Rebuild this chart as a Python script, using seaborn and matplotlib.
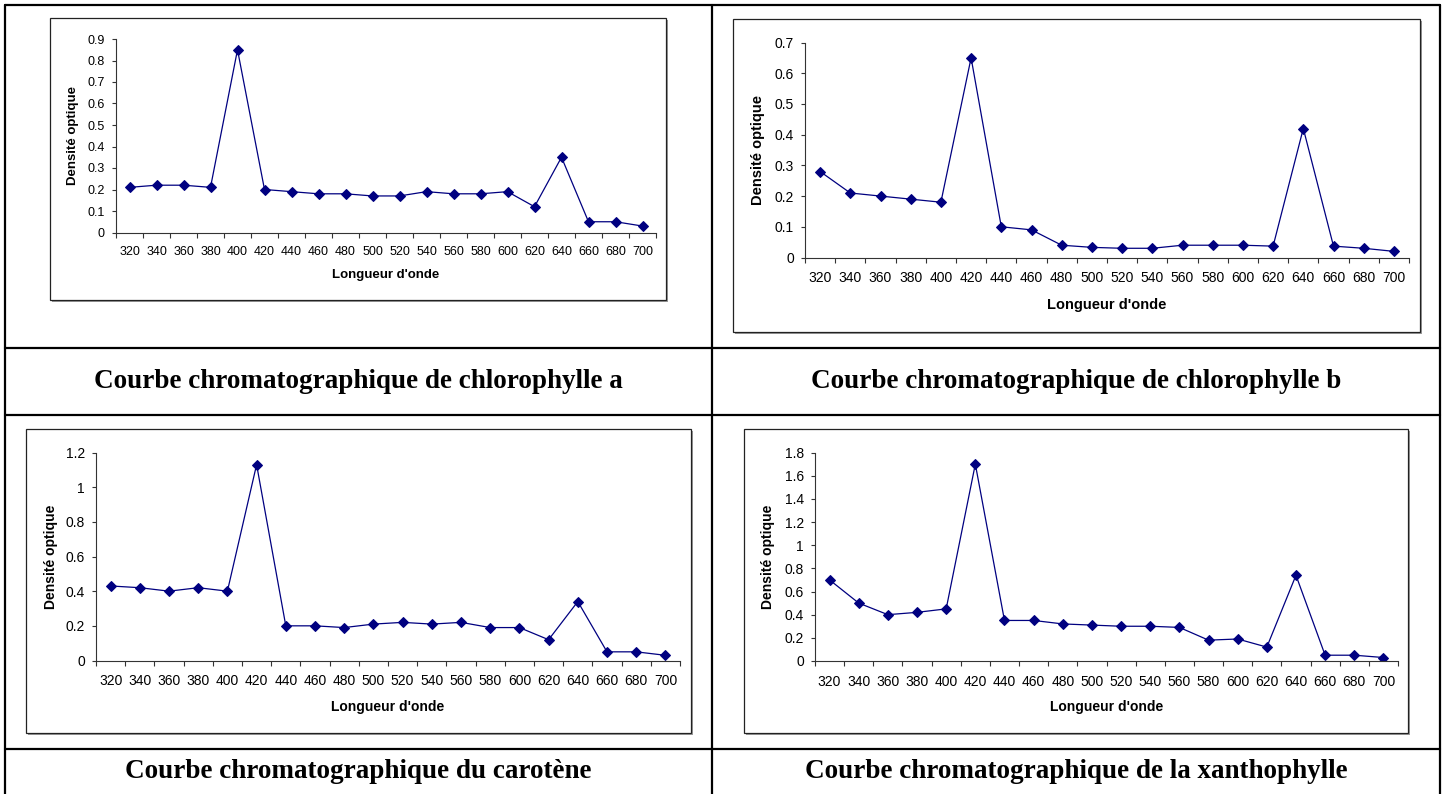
"""
Courbes d'absorption des pigments chlorophylliens (4 graphes style Excel dans un tableau)
"""

import matplotlib
matplotlib.use('Agg')
import matplotlib.pyplot as plt
import numpy as np
import seaborn as sns
from matplotlib.lines import Line2D
from matplotlib.patches import Rectangle
from matplotlib.ticker import FixedLocator, FuncFormatter

# Data
wavelengths = [320, 340, 360, 380, 400, 420, 440, 460, 480, 500,
               520, 540, 560, 580, 600, 620, 640, 660, 680, 700]

chlorophylle_a = [0.21, 0.22, 0.22, 0.21, 0.85, 0.20, 0.19, 0.18, 0.18, 0.17,
                  0.17, 0.19, 0.18, 0.18, 0.19, 0.12, 0.35, 0.05, 0.05, 0.03]
chlorophylle_b = [0.28, 0.21, 0.20, 0.19, 0.18, 0.65, 0.10, 0.09, 0.04, 0.033,
                  0.03, 0.03, 0.04, 0.04, 0.04, 0.037, 0.42, 0.037, 0.03, 0.02]
carotene = [0.43, 0.42, 0.40, 0.42, 0.40, 1.13, 0.20, 0.20, 0.19, 0.21,
            0.22, 0.21, 0.22, 0.19, 0.19, 0.12, 0.34, 0.05, 0.05, 0.03]
xanthophylle = [0.70, 0.50, 0.40, 0.42, 0.45, 1.70, 0.35, 0.35, 0.32, 0.31,
                0.30, 0.30, 0.29, 0.18, 0.19, 0.12, 0.74, 0.05, 0.05, 0.03]

series = [chlorophylle_a, chlorophylle_b, carotene, xanthophylle]
captions = ['Courbe chromatographique de chlorophylle a',
            'Courbe chromatographique de chlorophylle b',
            'Courbe chromatographique du carotène',
            'Courbe chromatographique de la xanthophylle']
y_max = [0.9, 0.7, 1.2, 1.8]
y_step = [0.1, 0.1, 0.2, 0.2]
x_label = "Longueur d'onde"
y_label = 'Densité optique'

# Layout in pixels (x0, y0, x1, y1), y measured from the top
W, H = 1446, 794
boxes = [(50, 18, 666, 300), (733, 19, 1420, 332),
         (26, 429, 691, 733), (744, 429, 1408, 733)]
plot_areas = [(116, 39, 656, 232.5), (805, 42.5, 1409, 257.5),
              (96, 452.5, 680, 660.5), (815, 452.5, 1398, 661)]
xlabel_y = [275, 305, 707, 707]
ylabel_x = [73, 758, 51, 768]
tick_size = [9, 10, 10, 10]
label_size = [9.5, 10.5, 10, 10]
caption_pos = [(358, 381), (1076, 381), (358, 772), (1076, 772)]

NAVY = '#000080'

sns.set_style('white')
plt.rcParams['font.family'] = ['Liberation Sans', 'DejaVu Sans']
plt.rcParams['text.color'] = 'black'
plt.rcParams['axes.labelcolor'] = 'black'
plt.rcParams['xtick.color'] = 'black'
plt.rcParams['ytick.color'] = 'black'

fig = plt.figure(figsize=(W / 100, H / 100), dpi=100, facecolor='white')


def fx(px):
    return px / W


def fy(py):
    return 1 - py / H


# table lines
lw_table = 1.6
for y in [5, 348, 415, 749]:
    fig.add_artist(Line2D([fx(5), fx(1440)], [fy(y), fy(y)], color='black', lw=lw_table))
for x in [5, 712, 1440]:
    fig.add_artist(Line2D([fx(x), fx(x)], [fy(5), fy(H + 5)], color='black', lw=lw_table))

for i, values in enumerate(series):
    # chart box with small gray shadow (Excel look)
    bx0, by0, bx1, by1 = boxes[i]
    fig.add_artist(Rectangle((fx(bx0 + 2), fy(by1 + 2)), fx(bx1 - bx0), (by1 - by0) / H,
                             facecolor='#9a9a9a', edgecolor='none', zorder=1))
    fig.add_artist(Rectangle((fx(bx0), fy(by1)), fx(bx1 - bx0), (by1 - by0) / H,
                             facecolor='white', edgecolor='#222222', lw=0.9, zorder=2))

    x0, y0, x1, y1 = plot_areas[i]
    ax = fig.add_axes([fx(x0), fy(y1), fx(x1 - x0), (y1 - y0) / H], zorder=3)
    ax.patch.set_alpha(0)

    sns.lineplot(x=wavelengths, y=values, ax=ax, color=NAVY, linewidth=0.9,
                 marker='D', markersize=5, markeredgecolor=NAVY, markerfacecolor=NAVY)

    ax.set_xlim(wavelengths[0] - 10, wavelengths[-1] + 10)
    ax.set_ylim(0, y_max[i])

    for side in ['top', 'right']:
        ax.spines[side].set_visible(False)
    for side in ['left', 'bottom']:
        ax.spines[side].set_color('#333333')
        ax.spines[side].set_linewidth(0.8)

    # category axis: labels at centres, tick marks between categories
    ax.xaxis.set_major_locator(FixedLocator(wavelengths))
    ax.xaxis.set_minor_locator(FixedLocator(np.arange(wavelengths[0] - 10, wavelengths[-1] + 11, 20)))
    ax.tick_params(axis='x', which='major', length=0, pad=10, labelsize=tick_size[i], colors='black')
    ax.tick_params(axis='x', which='minor', length=3.5, width=0.8, direction='out', color='#333333')
    ax.xaxis.set_ticks_position('bottom')

    yticks = np.arange(0, y_max[i] + y_step[i] / 2, y_step[i])
    ax.set_yticks(yticks)
    ax.yaxis.set_major_formatter(FuncFormatter(lambda v, p: f'{round(v, 2):g}'))
    ax.tick_params(axis='y', length=3, width=0.8, direction='out', pad=5,
                   labelsize=tick_size[i], color='#333333', labelcolor='black', left=True)

    ax.set_xlabel(x_label, fontsize=label_size[i], fontweight='bold', color='black')
    ax.xaxis.set_label_coords(0.5, (y1 - xlabel_y[i]) / (y1 - y0))
    ax.xaxis.label.set_va('center')
    ax.set_ylabel(y_label, fontsize=label_size[i], fontweight='bold', color='black')
    ax.yaxis.set_label_coords((ylabel_x[i] - x0) / (x1 - x0), 0.5)
    ax.yaxis.label.set_va('center')

    cx, cy = caption_pos[i]
    fig.text(fx(cx), fy(cy), captions[i], ha='center', va='center', color='black',
             fontsize=19.5, fontweight='bold', family='Liberation Serif')

fig.savefig('out.png', dpi=100, facecolor='white')
